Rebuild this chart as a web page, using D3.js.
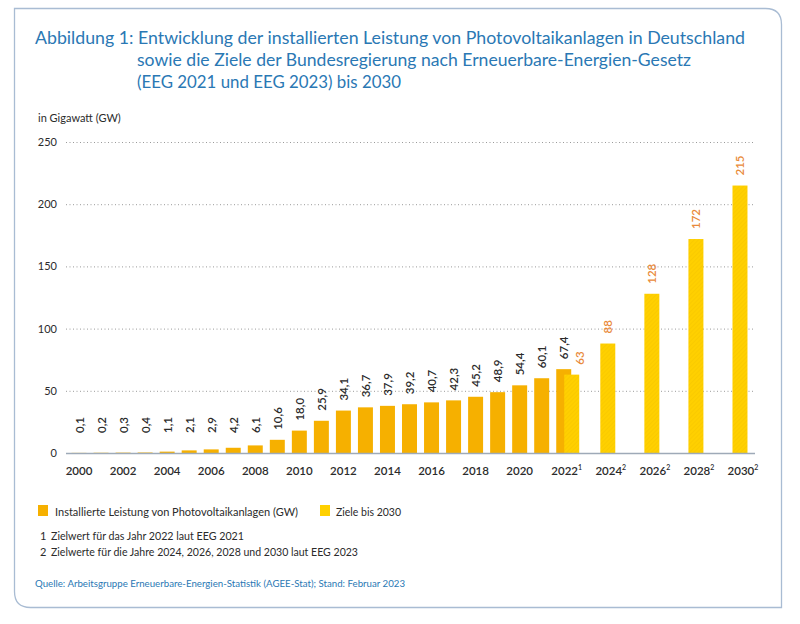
<!DOCTYPE html>
<html><head><meta charset="utf-8">
<script src="https://cdn.jsdelivr.net/npm/d3@7/dist/d3.min.js"></script>
<style>
html,body{margin:0;padding:0;background:#fff;}
svg{display:block;}
</style></head>
<body>
<svg id="c" width="800" height="624"></svg>
<script>
const years = d3.range(2000, 2031).map(String);
const installedYears = ["2000","2001","2002","2003","2004","2005","2006","2007","2008","2009","2010","2011","2012","2013","2014","2015","2016","2017","2018","2019","2020","2021","2022"];
const installedValues = [0.1,0.2,0.3,0.4,1.1,2.1,2.9,4.2,6.1,10.6,18.0,25.9,34.1,36.7,37.9,39.2,40.7,42.3,45.2,48.9,54.4,60.1,67.4];
const targetYears = ["2022","2024","2026","2028","2030"];
const targetValues = [63,88,128,172,215];
const tickYears = ["2000","2002","2004","2006","2008","2010","2012","2014","2016","2018","2020","2022","2024","2026","2028","2030"];
const tickSup = {"2022":"1","2024":"2","2026":"2","2028":"2","2030":"2"};
const yTicks = [0,50,100,150,200,250];
const titleLines = ["Abbildung 1: Entwicklung der installierten Leistung von Photovoltaikanlagen in Deutschland",
  "sowie die Ziele der Bundesregierung nach Erneuerbare-Energien-Gesetz",
  "(EEG 2021 und EEG 2023) bis 2030"];
const legendItems = ["Installierte Leistung von Photovoltaikanlagen (GW)", "Ziele bis 2030"];
const footnotes = ["Zielwert für das Jahr 2022 laut EEG 2021", "Zielwerte für die Jahre 2024, 2026, 2028 und 2030 laut EEG 2023"];
const sourceText = "Quelle: Arbeitsgruppe Erneuerbare-Energien-Statistik (AGEE-Stat); Stand: Februar 2023";

const svg = d3.select("#c");
const FONT = "Lato, 'Open Sans', sans-serif";
const C_INST = "#f6b000", C_TGT = "#ffd000", C_TXT = "#2b2b2b", C_ORANGE = "#e98a3a", C_BLUE = "#2a78b4";

// hatch pattern
const defs = svg.append("defs");
const pat = defs.append("pattern").attr("id","hatch").attr("patternUnits","userSpaceOnUse")
  .attr("width",3).attr("height",3).attr("patternTransform","rotate(45)");
pat.append("rect").attr("width",3).attr("height",3).attr("fill",C_TGT);
pat.append("line").attr("x1",0).attr("y1",0).attr("x2",0).attr("y2",3).attr("stroke","#f5c400").attr("stroke-width",1);

// frame: square TL & BR, rounded TR & BL
const L=14.5,T=8.5,R=781.5,B=607.5,r=16;
svg.append("path").attr("d",`M${L},${T} H${R-r} Q${R},${T} ${R},${T+r} V${B} H${L+r} Q${L},${B} ${L},${B-r} Z`)
  .attr("fill","none").attr("stroke","#a9bcd3").attr("stroke-width",1.3);

// title
const tl = [{x:35,y:44,w:710},{x:137,y:66,w:554},{x:137,y:88,w:264}];
titleLines.forEach((t,i)=>{
  svg.append("text").attr("x",tl[i].x).attr("y",tl[i].y).text(t)
    .attr("font-family",FONT).attr("font-size",17.5).attr("fill",C_BLUE)
    .attr("textLength",tl[i].w).attr("lengthAdjust","spacingAndGlyphs");
});

svg.append("text").attr("x",38).attr("y",122).text("in Gigawatt (GW)")
  .attr("font-family",FONT).attr("font-size",11).attr("fill",C_TXT);

const y = d3.scaleLinear().domain([0,250]).range([453,142]);
const x = d3.scaleBand().domain(years).range([68,751]).paddingInner(0.32).paddingOuter(0.16);

// y axis (labels + dotted grid)
const yAxis = d3.axisLeft(y).tickValues(yTicks).tickSize(-(755-66)).tickPadding(9).tickFormat(d3.format("d"));
const gy = svg.append("g").attr("transform","translate(66,0)").call(yAxis);
gy.select(".domain").remove();
gy.selectAll(".tick line").attr("stroke","#9a9a9a").attr("stroke-dasharray","1,2.5").attr("stroke-width",1);
gy.selectAll(".tick text").attr("font-family",FONT).attr("font-size",11).attr("fill",C_TXT).attr("x",-9);
gy.selectAll(".tick").filter(d=>d===0).select("line").remove();

// installed bars
const bw = x.bandwidth();
svg.append("g").selectAll("rect").data(installedYears.map((yr,i)=>({yr,v:installedValues[i]}))).join("rect")
  .attr("x",d=>x(d.yr)).attr("width",bw).attr("y",d=>y(d.v)).attr("height",d=>y(0)-y(d.v)).attr("fill",C_INST);

// target bars
const tOff = yr => yr==="2022" ? 8 : 0;
svg.append("g").selectAll("rect").data(targetYears.map((yr,i)=>({yr,v:targetValues[i]}))).join("rect")
  .attr("x",d=>x(d.yr)+tOff(d.yr)).attr("width",bw).attr("y",d=>y(d.v)).attr("height",d=>y(0)-y(d.v)).attr("fill","url(#hatch)");

// baseline + x labels
const xAxis = d3.axisBottom(x).tickValues(tickYears).tickSize(0).tickPadding(14);
const gx = svg.append("g").attr("transform",`translate(0,${y(0)})`).call(xAxis);
gx.select(".domain").remove();
svg.append("line").attr("x1",66).attr("x2",755).attr("y1",y(0)+0.5).attr("y2",y(0)+0.5).attr("stroke","#9eaab8").attr("stroke-width",1.5);
gx.selectAll(".tick text").each(function(d){
  const t = d3.select(this).text(null).attr("font-family",FONT).attr("font-size",11.5).attr("font-weight",600).attr("fill",C_TXT);
  t.append("tspan").text(d);
  if (tickSup[d]) { t.append("tspan").text(tickSup[d]).attr("font-size",7).attr("dy",-5); t.attr("dx",3); }
});

// value labels
function labelPos(v){ return Math.min(y(v)-10, 433); }
svg.append("g").selectAll("text").data(installedYears.map((yr,i)=>({yr,v:installedValues[i]}))).join("text")
  .attr("transform",d=>`translate(${x(d.yr)+bw/2},${labelPos(d.v)}) rotate(-90)`)
  .attr("dominant-baseline","central").attr("text-anchor","start")
  .attr("font-family",FONT).attr("font-size",11.5).attr("font-weight",600).attr("fill",C_TXT)
  .text(d=>d.v.toFixed(1).replace(".",","));
svg.append("g").selectAll("text").data(targetYears.map((yr,i)=>({yr,v:targetValues[i]}))).join("text")
  .attr("transform",d=>`translate(${x(d.yr)+bw/2+tOff(d.yr)*2},${y(d.v)-10}) rotate(-90)`)
  .attr("dominant-baseline","central").attr("text-anchor","start")
  .attr("font-family",FONT).attr("font-size",11.5).attr("font-weight",600).attr("fill",C_ORANGE)
  .text(d=>String(d.v));

// legend
const lg = svg.append("g").attr("font-family",FONT).attr("font-size",11).attr("fill",C_TXT);
lg.append("rect").attr("x",38).attr("y",505).attr("width",10).attr("height",11).attr("fill",C_INST);
lg.append("text").attr("x",55).attr("y",516).text(legendItems[0]).attr("textLength",243).attr("lengthAdjust","spacingAndGlyphs");
lg.append("rect").attr("x",320).attr("y",505).attr("width",10).attr("height",11).attr("fill",C_TGT);
lg.append("text").attr("x",336).attr("y",516).text(legendItems[1]).attr("textLength",65).attr("lengthAdjust","spacingAndGlyphs");
const fnW = [193, 307];
footnotes.forEach((f,i)=>{
  lg.append("text").attr("x",40).attr("y",540+i*16).text(String(i+1));
  lg.append("text").attr("x",51).attr("y",540+i*16).text(f).attr("textLength",fnW[i]).attr("lengthAdjust","spacingAndGlyphs");
});
svg.append("text").attr("x",35).attr("y",587).text(sourceText)
  .attr("font-family",FONT).attr("font-size",10).attr("fill",C_BLUE)
  .attr("textLength",370).attr("lengthAdjust","spacingAndGlyphs");
</script>
</body></html>
